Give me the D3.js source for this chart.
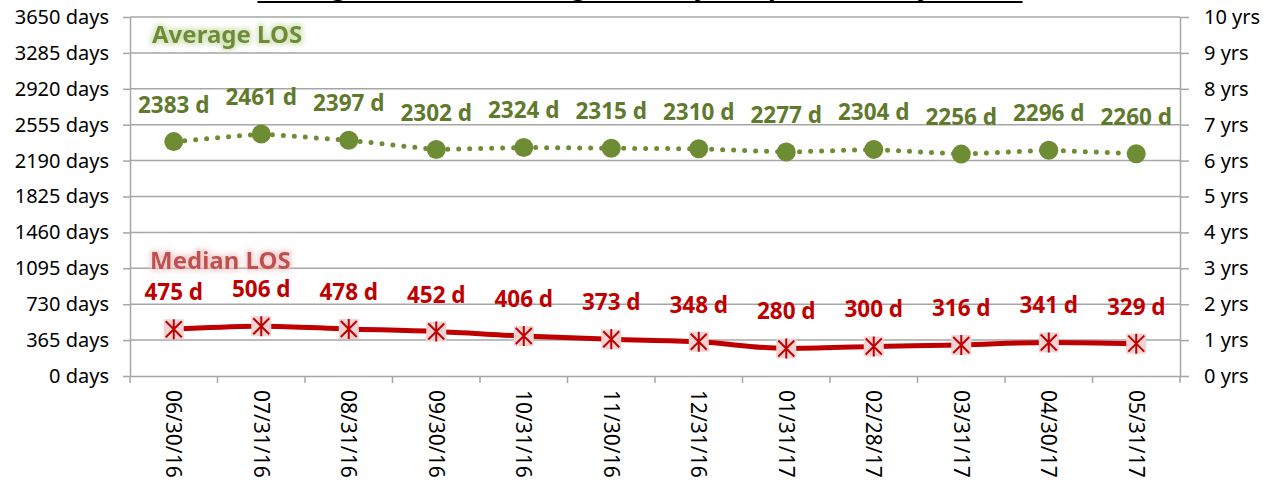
<!DOCTYPE html>
<html>
<head>
<meta charset="utf-8">
<script src="https://cdn.jsdelivr.net/npm/d3@7"></script>
<style>
  html, body { margin: 0; padding: 0; background: #fff; }
  svg { display: block; font-family: "Noto Sans", "Open Sans", sans-serif; }
</style>
</head>
<body>
<svg id="chart" width="1282" height="483"></svg>
<script>
// data
const dates = ["06/30/16", "07/31/16", "08/31/16", "09/30/16", "10/31/16", "11/30/16",
               "12/31/16", "01/31/17", "02/28/17", "03/31/17", "04/30/17", "05/31/17"];
const averageLos = [2383, 2461, 2397, 2302, 2324, 2315, 2310, 2277, 2304, 2256, 2296, 2260];
const medianLos = [475, 506, 478, 452, 406, 373, 348, 280, 300, 316, 341, 329];
const dayTicks = [0, 365, 730, 1095, 1460, 1825, 2190, 2555, 2920, 3285, 3650];
const yearTicks = [0, 1, 2, 3, 4, 5, 6, 7, 8, 9, 10];

const svg = d3.select("#chart");
const margin = { top: 17, right: 102, bottom: 107, left: 130 };
const width = 1282 - margin.left - margin.right,
      height = 483 - margin.top - margin.bottom;

const green = "#6d8c34", greenText = "#5f7a2c", red = "#c00000", grid = "#a6a6a6";

const defs = svg.append("defs");
function glow(id, color) {
  const f = defs.append("filter").attr("id", id)
      .attr("x", "-20%").attr("y", "-40%").attr("width", "140%").attr("height", "180%");
  f.append("feMorphology").attr("in", "SourceAlpha").attr("operator", "dilate").attr("radius", 2).attr("result", "d");
  f.append("feGaussianBlur").attr("in", "d").attr("stdDeviation", 2.5).attr("result", "b");
  f.append("feFlood").attr("flood-color", color).attr("flood-opacity", 0.75);
  f.append("feComposite").attr("in2", "b").attr("operator", "in").attr("result", "g");
  const m = f.append("feMerge");
  m.append("feMergeNode").attr("in", "g");
  m.append("feMergeNode").attr("in", "SourceGraphic");
}
glow("glowGreen", "#c9dcaa");
glow("glowRed", "#efc4c4");

const g = svg.append("g").attr("transform", "translate(" + margin.left + "," + margin.top + ")");

const x = d3.scaleBand().domain(dates).range([0, width]);
const y = d3.scaleLinear().domain([0, 3650]).range([height, 0]);
const yr = d3.scaleLinear().domain([0, 10]).range([height, 0]);

// title, mostly cut off at the top edge
const titleW = 765;
svg.append("text")
    .attr("x", 640).attr("y", -5)
    .attr("text-anchor", "middle")
    .attr("font-size", 26).attr("font-weight", "bold")
    .attr("textLength", titleW).attr("lengthAdjust", "spacingAndGlyphs")
    .text("Average and Median Length of Stay of Open Cases by Month");
svg.append("line")
    .attr("x1", 640 - titleW / 2).attr("x2", 640 + titleW / 2)
    .attr("y1", 2).attr("y2", 2)
    .attr("stroke", "#000").attr("stroke-width", 2);

// gridlines
g.append("g").selectAll("line").data(dayTicks.slice(1)).join("line")
    .attr("x1", 0).attr("x2", width)
    .attr("y1", d => y(d)).attr("y2", d => y(d))
    .attr("stroke", grid).attr("stroke-width", 1.5);

function styleAxis(sel) {
  sel.select(".domain").attr("stroke", grid).attr("stroke-width", 1.5);
  sel.selectAll(".tick line").attr("stroke", grid).attr("stroke-width", 1.5);
  sel.selectAll(".tick text").attr("fill", "#000").attr("font-size", 20);
}

g.append("g")
    .call(d3.axisLeft(y).tickValues(dayTicks).tickFormat(d => d + " days").tickSize(7).tickSizeOuter(0).tickPadding(14))
    .call(styleAxis)
    .attr("font-family", null);

g.append("g")
    .attr("transform", "translate(" + width + ",0)")
    .call(d3.axisRight(yr).tickValues(yearTicks).tickFormat(d => d + " yrs").tickSize(9).tickSizeOuter(0).tickPadding(15))
    .call(styleAxis)
    .attr("font-family", null);

const xAxis = g.append("g")
    .attr("transform", "translate(0," + height + ")")
    .call(d3.axisBottom(x).tickSize(0).tickSizeOuter(0))
    .call(styleAxis)
    .attr("font-family", null);
xAxis.selectAll(".tick text")
    .attr("transform", "rotate(90)")
    .attr("text-anchor", "start")
    .attr("x", 14).attr("y", 0).attr("dy", "0.35em")
    .attr("font-size", 21);
// tick marks between categories
xAxis.append("g").selectAll("line").data(d3.range(dates.length + 1)).join("line")
    .attr("x1", i => i * x.step()).attr("x2", i => i * x.step())
    .attr("y1", 0).attr("y2", 7)
    .attr("stroke", grid).attr("stroke-width", 1.5);

const cx = d => x(d) + x.bandwidth() / 2;

// average series
const avg = dates.map((d, i) => ({ d, v: averageLos[i] }));
g.append("path").datum(avg)
    .attr("fill", "none").attr("stroke", green).attr("stroke-width", 5)
    .attr("stroke-linecap", "round").attr("stroke-dasharray", "0 11")
    .attr("d", d3.line().x(p => cx(p.d)).y(p => y(p.v)));
g.append("g").selectAll("circle").data(avg).join("circle")
    .attr("cx", p => cx(p.d)).attr("cy", p => y(p.v)).attr("r", 9.5)
    .attr("fill", green);
g.append("g").selectAll("text").data(avg).join("text")
    .attr("x", p => cx(p.d)).attr("y", p => y(p.v) - 29)
    .attr("text-anchor", "middle").attr("font-size", 22.5).attr("font-weight", "bold")
    .attr("fill", greenText)
    .text(p => p.v + " d");

// median series
const med = dates.map((d, i) => ({ d, v: medianLos[i] }));
g.append("path").datum(med)
    .attr("fill", "none").attr("stroke", red).attr("stroke-width", 5)
    .attr("stroke-linejoin", "round")
    .attr("d", d3.line().curve(d3.curveMonotoneX).x(p => cx(p.d)).y(p => y(p.v)));
const mk = g.append("g").selectAll("g").data(med).join("g")
    .attr("transform", p => "translate(" + cx(p.d) + "," + y(p.v) + ")");
mk.append("rect").attr("x", -10).attr("y", -10).attr("width", 20).attr("height", 20)
    .attr("fill", "#f2d3d3");
mk.append("path")
    .attr("d", "M-8,-8L8,8M-8,8L8,-8M0,-10L0,10")
    .attr("stroke", red).attr("stroke-width", 2);
g.append("g").selectAll("text").data(med).join("text")
    .attr("x", p => cx(p.d)).attr("y", p => y(p.v) - 29)
    .attr("text-anchor", "middle").attr("font-size", 22.5).attr("font-weight", "bold")
    .attr("fill", red)
    .text(p => p.v + " d");

// series names
g.append("text")
    .attr("x", 22).attr("y", 26)
    .attr("font-size", 24).attr("font-weight", "bold")
    .attr("fill", green).attr("filter", "url(#glowGreen)")
    .text("Average LOS");
g.append("text")
    .attr("x", 20).attr("y", 252)
    .attr("font-size", 24).attr("font-weight", "bold")
    .attr("fill", "#c0504d").attr("filter", "url(#glowRed)")
    .text("Median LOS");
</script>
</body>
</html>
